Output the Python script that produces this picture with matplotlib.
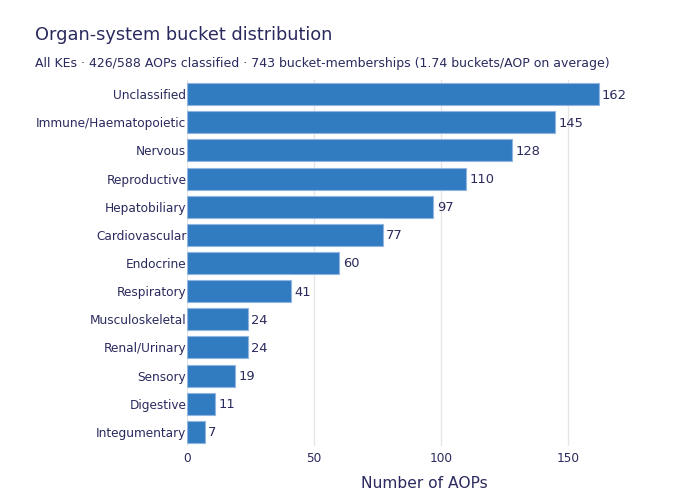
import matplotlib
matplotlib.use("Agg")
import matplotlib.pyplot as plt

categories = ["Unclassified", "Immune/Haematopoietic", "Nervous", "Reproductive",
              "Hepatobiliary", "Cardiovascular", "Endocrine", "Respiratory",
              "Musculoskeletal", "Renal/Urinary", "Sensory", "Digestive",
              "Integumentary"]
values = [162, 145, 128, 110, 97, 77, 60, 41, 24, 24, 19, 11, 7]
xticks = [0, 50, 100, 150]

TXT = "#2a2a5e"
BAR = "#317bc0"

plt.rcParams["font.family"] = ["DejaVu Sans"]
fig = plt.figure(figsize=(7, 5), dpi=100)
ax = fig.add_axes([187/700, 54/500, (661-187)/700, (446-80)/500])

ypos = list(range(len(categories)))
ax.barh(ypos, values, height=0.78, color=BAR, edgecolor="#8fb5e0", linewidth=0.8, zorder=3)
for y, v in zip(ypos, values):
    ax.annotate(str(v), (v, y), xytext=(2.5, -0.7), textcoords="offset points",
                va="center", ha="left", fontsize=9.4, color=TXT)

ax.set_ylim(len(categories) - 0.5, -0.5)
ax.set_yticks(ypos)
ax.set_yticklabels(categories, fontsize=8.7, color=TXT)
ax.set_xlim(0, 186.6)
ax.set_xticks(xticks)
ax.set_xticklabels([str(t) for t in xticks], fontsize=8.7, color=TXT)
ax.tick_params(axis="y", length=0, pad=0.5)
ax.tick_params(axis="x", length=0, pad=4)
ax.grid(axis="x", color="#e6e6e6", linewidth=1, zorder=0)
for s in ax.spines.values():
    s.set_visible(False)
ax.set_xlabel("Number of AOPs", fontsize=11.2, color=TXT, labelpad=8.5)

fig.text(35/700, 1 - 35/500, "Organ-system bucket distribution", fontsize=12.8,
         color=TXT, va="center", ha="left")
fig.text(35/700, 1 - 63/500,
         "All KEs · 426/588 AOPs classified · 743 bucket-memberships (1.74 buckets/AOP on average)",
         fontsize=9.0, color=TXT, va="center", ha="left")

fig.savefig("out.png", dpi=100)
